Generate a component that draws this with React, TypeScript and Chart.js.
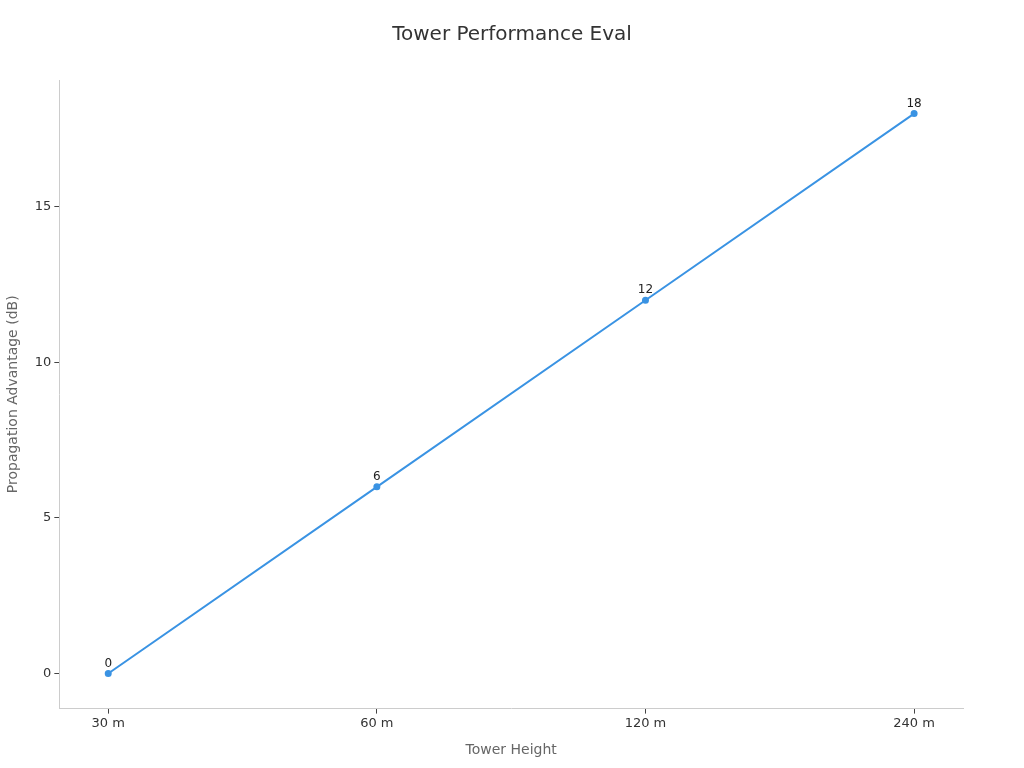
import React, { useEffect, useRef } from 'react';
import { Chart, registerables } from 'chart.js';

Chart.register(...registerables);

const categories = ['30 m', '60 m', '120 m', '240 m'];
const advantage = [0, 6, 12, 18];
const yTicks = [0, 5, 10, 15];

const FONT = "'DejaVu Sans', sans-serif";
const TITLE = 'Tower Performance Eval';

// labels above each point and a title centred on the whole canvas
const extras = {
	id: 'extras',
	afterDatasetsDraw(chart: Chart) {
		const { ctx } = chart;
		const meta = chart.getDatasetMeta(0);
		ctx.save();
		ctx.font = `12px ${FONT}`;
		ctx.fillStyle = '#222';
		ctx.textAlign = 'center';
		ctx.textBaseline = 'bottom';
		meta.data.forEach((pt, i) => {
			ctx.fillText(String(advantage[i]), pt.x, pt.y - 4);
		});
		ctx.font = `20px ${FONT}`;
		ctx.fillStyle = '#333';
		ctx.textBaseline = 'middle';
		ctx.fillText(TITLE, chart.width / 2, 35);
		ctx.restore();
	},
};

export default function App() {
	const canvasRef = useRef<HTMLCanvasElement>(null);
	const chartRef = useRef<Chart | null>(null);

	useEffect(() => {
		document.body.style.margin = '0';
		if (!canvasRef.current) return;
		if (chartRef.current) chartRef.current.destroy();

		chartRef.current = new Chart(canvasRef.current, {
			type: 'line',
			data: {
				datasets: [
					{
						data: advantage.map((v, i) => ({ x: i, y: v })),
						borderColor: '#3a93e3',
						backgroundColor: '#3a93e3',
						borderWidth: 2,
						pointRadius: 2.5,
						pointHoverRadius: 2.5,
						tension: 0,
					},
				],
			},
			options: {
				animation: false,
				responsive: true,
				maintainAspectRatio: false,
				layout: { padding: { top: 80, right: 61, bottom: 9, left: 1 } },
				plugins: {
					legend: { display: false },
					tooltip: { enabled: false },
					title: { display: false },
				},
				scales: {
					x: {
						type: 'linear',
						min: -0.182,
						max: 3.182,
						afterBuildTicks: (axis) => {
							axis.ticks = categories.map((_, i) => ({ value: i }));
						},
						ticks: {
							callback: (v) => categories[Number(v)] ?? '',
							color: '#333',
							font: { family: FONT, size: 13 },
							padding: 2,
							maxRotation: 0,
						},
						grid: {
							drawOnChartArea: false,
							drawTicks: true,
							tickLength: 5,
							tickColor: '#444',
						},
						border: { display: true, color: '#ccc' },
						title: {
							display: true,
							text: 'Tower Height',
							color: '#666',
							font: { family: FONT, size: 14 },
							padding: { top: 9, bottom: 0 },
						},
					},
					y: {
						min: -1.13,
						max: 19.08,
						afterBuildTicks: (axis) => {
							axis.ticks = yTicks.map((v) => ({ value: v }));
						},
						ticks: {
							color: '#333',
							font: { family: FONT, size: 13 },
							padding: 3,
						},
						grid: {
							drawOnChartArea: false,
							drawTicks: true,
							tickLength: 5,
							tickColor: '#444',
						},
						border: { display: true, color: '#ccc' },
						title: {
							display: true,
							text: 'Propagation Advantage (dB)',
							color: '#666',
							font: { family: FONT, size: 14 },
							padding: { top: 4, bottom: 10 },
						},
					},
				},
			},
			plugins: [extras],
		});

		return () => {
			if (chartRef.current) {
				chartRef.current.destroy();
				chartRef.current = null;
			}
		};
	}, []);

	return (
		<div style={{ position: 'relative', width: 1024, height: 768 }}>
			<canvas ref={canvasRef} />
		</div>
	);
}
